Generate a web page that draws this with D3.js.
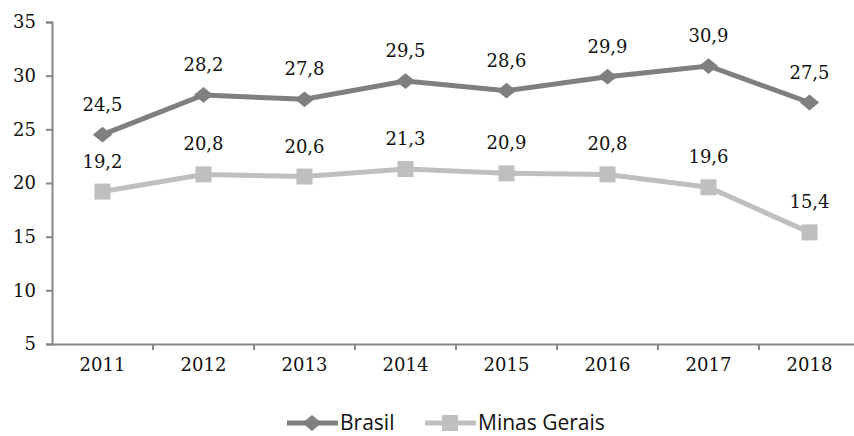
<!DOCTYPE html>
<html>
<head>
<meta charset="utf-8">
<script src="https://cdn.jsdelivr.net/npm/d3@7"></script>
<style>
  body { margin: 0; background: #fff; }
  svg { display: block; }
</style>
</head>
<body>
<div id="chart"></div>
<script>
const width = 854;
const height = 436;

// Data
const years = ["2011", "2012", "2013", "2014", "2015", "2016", "2017", "2018"];
const brasil = [24.5, 28.2, 27.8, 29.5, 28.6, 29.9, 30.9, 27.5];
const minasGerais = [19.2, 20.8, 20.6, 21.3, 20.9, 20.8, 19.6, 15.4];
const yTicks = [5, 10, 15, 20, 25, 30, 35];

// flat diamond like the Excel marker (wider than tall)
const flatDiamond = {
  draw(context, size) {
    const w = Math.sqrt(size) * 0.62;
    const h = w * 0.82;
    context.moveTo(0, -h);
    context.lineTo(w, 0);
    context.lineTo(0, h);
    context.lineTo(-w, 0);
    context.closePath();
  }
};

const series = [
  { name: "Brasil", values: brasil, color: "#7f7f7f", symbol: flatDiamond, size: 240 },
  { name: "Minas Gerais", values: minasGerais, color: "#bfbfbf", symbol: d3.symbolSquare, size: 256 }
];

const margin = { left: 52, right: -6, top: 22, bottom: 92 };
const axisColor = "#868686";
const numFont = "'DejaVu Serif', serif";

const svg = d3.select("#chart")
  .append("svg")
  .attr("width", width)
  .attr("height", height);

const x = d3.scaleBand()
  .domain(years)
  .range([margin.left, width - margin.right]);

const y = d3.scaleLinear()
  .domain([5, 35])
  .range([height - margin.bottom, margin.top]);

// Y axis
const yAxis = svg.append("g")
  .attr("transform", `translate(${margin.left},0)`)
  .call(d3.axisLeft(y).tickValues(yTicks).tickSize(6).tickPadding(10));

// X axis
const xAxis = svg.append("g")
  .attr("transform", `translate(0,${y(5)})`)
  .call(d3.axisBottom(x).tickSize(0).tickPadding(14));

// tick marks between categories
xAxis.selectAll(".between")
  .data(years.slice(1))
  .join("line")
  .attr("class", "between")
  .attr("x1", (d) => x(d))
  .attr("x2", (d) => x(d))
  .attr("y1", 0)
  .attr("y2", 6)
  .attr("stroke", axisColor)
  .attr("stroke-width", 2);

svg.selectAll(".domain")
  .attr("stroke", axisColor)
  .attr("stroke-width", 2);
yAxis.selectAll(".tick line").attr("stroke", axisColor).attr("stroke-width", 2);
svg.selectAll(".tick text")
  .attr("fill", "#111")
  .attr("font-family", numFont)
  .attr("font-size", 18);

const cx = (i) => x(years[i]) + x.bandwidth() / 2;

const line = d3.line()
  .x((d, i) => cx(i))
  .y((d) => y(d));

const fmt = (v) => v.toFixed(1).replace(".", ",");

series.forEach((s) => {
  const g = svg.append("g");

  g.append("path")
    .datum(s.values)
    .attr("d", line)
    .attr("fill", "none")
    .attr("stroke", s.color)
    .attr("stroke-width", 5);

  g.selectAll("path.marker")
    .data(s.values)
    .join("path")
    .attr("class", "marker")
    .attr("d", d3.symbol().type(s.symbol).size(s.size))
    .attr("transform", (d, i) => `translate(${cx(i)},${y(d)})`)
    .attr("fill", s.color);

  g.selectAll("text")
    .data(s.values)
    .join("text")
    .attr("x", (d, i) => cx(i))
    .attr("y", (d) => y(d) - 24)
    .attr("text-anchor", "middle")
    .attr("font-family", numFont)
    .attr("font-size", 18)
    .attr("fill", "#111")
    .text(fmt);
});

// Legend
const legend = svg.append("g").attr("transform", "translate(0,423)");
const legendItems = [
  { s: series[0], x: 287 },
  { s: series[1], x: 425 }
];

legendItems.forEach(({ s, x: lx }) => {
  legend.append("line")
    .attr("x1", lx)
    .attr("x2", lx + 51)
    .attr("y1", 0)
    .attr("y2", 0)
    .attr("stroke", s.color)
    .attr("stroke-width", 5);
  legend.append("path")
    .attr("d", d3.symbol().type(s.symbol).size(s.size))
    .attr("transform", `translate(${lx + 25},0)`)
    .attr("fill", s.color);
  legend.append("text")
    .attr("x", lx + 53)
    .attr("y", 7)
    .attr("font-family", "'Open Sans', sans-serif")
    .attr("font-size", 21)
    .attr("fill", "#111")
    .text(s.name);
});
</script>
</body>
</html>
